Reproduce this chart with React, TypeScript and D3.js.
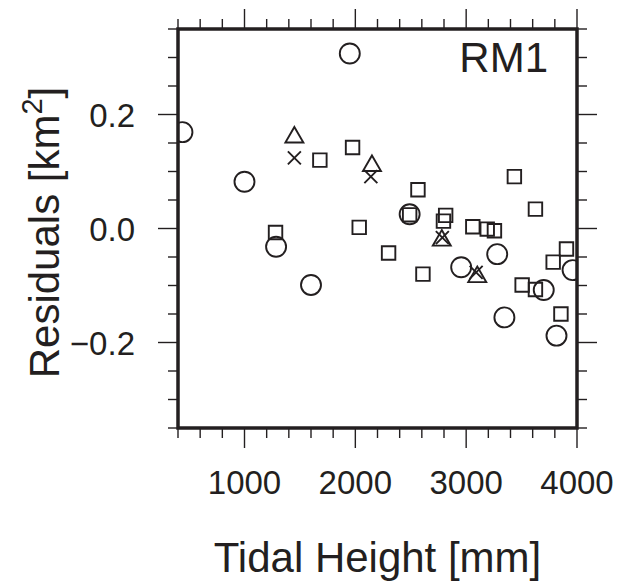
import React from 'react';
import * as d3 from 'd3';

// residuals vs tidal height, RM1 panel
const circles: [number, number][] = [
  [440, 0.169], [1000, 0.082], [1285, -0.032], [1600, -0.099], [1950, 0.307],
  [2490, 0.025], [2955, -0.068], [3280, -0.045], [3345, -0.156], [3700, -0.108],
  [3815, -0.188], [3960, -0.073],
];
const squares: [number, number][] = [
  [1280, -0.007], [1680, 0.120], [1975, 0.142], [2035, 0.002], [2300, -0.043],
  [2490, 0.024], [2565, 0.068], [2610, -0.080], [2795, 0.013], [2815, 0.023],
  [3060, 0.003], [3190, -0.001], [3255, -0.004], [3435, 0.091], [3505, -0.099],
  [3625, 0.034], [3625, -0.107], [3785, -0.059], [3855, -0.150], [3905, -0.036],
];
const triangles: [number, number][] = [
  [1450, 0.160], [2150, 0.110], [2780, -0.021], [3100, -0.085],
];
const crosses: [number, number][] = [
  [1450, 0.124], [2140, 0.091], [2785, -0.016], [3090, -0.077],
];

const xMajor = [1000, 2000, 3000, 4000];
const yMajor = [0.2, 0.0, -0.2];
const yLabels = ['0.2', '0.0', '\u22120.2'];

const W = 619, H = 582;
const left = 178, right = 577, top = 29, bottom = 428;
const ink = '#231f20';
const font = '"Liberation Sans", Arial, Helvetica, sans-serif';

export default function App() {
  const x = d3.scaleLinear().domain([400, 4000]).range([left, right]);
  const y = d3.scaleLinear().domain([-0.35, 0.35]).range([bottom, top]);

  const xMinor = d3.range(400, 4001, 200).filter(v => v % 1000 !== 0);
  const yMinor = d3.range(-7, 8).filter(i => i % 4 !== 0).map(i => i * 0.05);

  const circlePath = d3.symbol(d3.symbolCircle, Math.PI * 100)()!;
  const squarePath = d3.symbol(d3.symbolSquare, 182)()!;
  const trianglePath = d3.symbol(d3.symbolTriangle, 140)()!;
  const crossPath = d3.symbol(d3.symbolTimes, 112)()!;

  const marks = (data: [number, number][], d: string, key: string) =>
    data.map((p, i) => (
      <path key={key + i} d={d} transform={`translate(${x(p[0])},${y(p[1])})`}
        fill="none" stroke={ink} strokeWidth={1.9} />
    ));

  return (
    <svg width={W} height={H} style={{ position: 'absolute', left: 0, top: 0, background: '#fff' }}>
      <defs>
        <clipPath id="plotArea">
          <rect x={left} y={top} width={right - left} height={bottom - top} />
        </clipPath>
      </defs>

      <g clipPath="url(#plotArea)">
        {marks(circles, circlePath, 'c')}
        {marks(squares, squarePath, 's')}
        {marks(triangles, trianglePath, 't')}
        {marks(crosses, crossPath, 'x')}
      </g>

      {/* ticks on all four sides, pointing outward */}
      <g stroke={ink} strokeWidth={1.4}>
        {xMinor.map(v => (
          <g key={'xm' + v}>
            <line x1={x(v)} x2={x(v)} y1={bottom} y2={bottom + 10} />
            <line x1={x(v)} x2={x(v)} y1={top} y2={top - 10} />
          </g>
        ))}
        {xMajor.map(v => (
          <g key={'xM' + v}>
            <line x1={x(v)} x2={x(v)} y1={bottom} y2={bottom + 20} />
            <line x1={x(v)} x2={x(v)} y1={top} y2={top - 20} />
          </g>
        ))}
        {yMinor.map(v => (
          <g key={'ym' + v}>
            <line x1={left} x2={left - 10} y1={y(v)} y2={y(v)} />
            <line x1={right} x2={right + 10} y1={y(v)} y2={y(v)} />
          </g>
        ))}
        {yMajor.map(v => (
          <g key={'yM' + v}>
            <line x1={left} x2={left - 20} y1={y(v)} y2={y(v)} />
            <line x1={right} x2={right + 20} y1={y(v)} y2={y(v)} />
          </g>
        ))}
      </g>

      <rect x={left} y={top} width={right - left} height={bottom - top}
        fill="none" stroke={ink} strokeWidth={3.5} />

      <g fontFamily={font} fontSize={33} fill={ink}>
        {xMajor.map(v => (
          <text key={'xl' + v} x={x(v)} y={494} textAnchor="middle">{v}</text>
        ))}
        {yMajor.map((v, i) => (
          <text key={'yl' + v} x={135} y={y(v) + 12} textAnchor="end">{yLabels[i]}</text>
        ))}
      </g>

      <text x={548} y={72} textAnchor="end" fontFamily={font} fontSize={42} fill={ink}>RM1</text>

      <text x={(left + right) / 2} y={572} textAnchor="middle" fontFamily={font} fontSize={42} fill={ink}>
        Tidal Height [mm]
      </text>

      <text transform={`translate(59,${(top + bottom) / 2 + 4}) rotate(-90)`} textAnchor="middle"
        fontFamily={font} fontSize={42} fill={ink}>
        Residuals [km<tspan fontSize={29} dy={-17}>2</tspan><tspan dy={17}>]</tspan>
      </text>
    </svg>
  );
}
